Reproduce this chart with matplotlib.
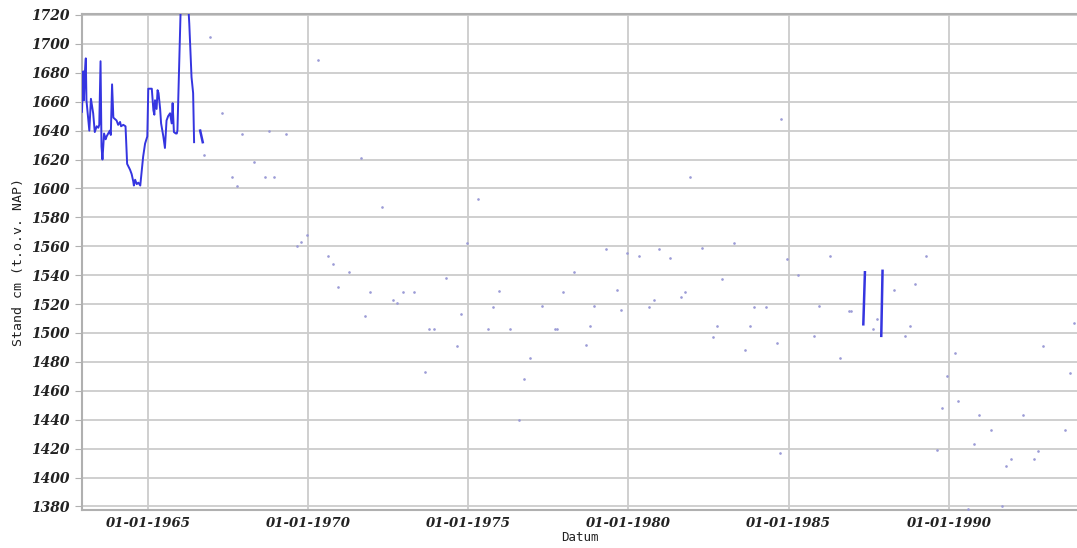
import numpy as np
import matplotlib.pyplot as plt

# doorlopende meetreeks 1963-1966 (jaar als decimaal)
jaar_lijn = [1962.94, 1962.98, 1963.00, 1963.03, 1963.06, 1963.08, 1963.17, 1963.22,
             1963.29, 1963.34, 1963.40, 1963.45, 1963.48, 1963.52, 1963.55, 1963.58,
             1963.63, 1963.68, 1963.71, 1963.76, 1963.81, 1963.84, 1963.88, 1963.92,
             1963.97, 1964.02, 1964.07, 1964.13, 1964.16, 1964.23, 1964.30, 1964.35,
             1964.44, 1964.49, 1964.54, 1964.56, 1964.60, 1964.65, 1964.70, 1964.76,
             1964.85, 1964.91, 1964.98, 1965.01, 1965.12, 1965.17, 1965.20, 1965.22,
             1965.27, 1965.30, 1965.33, 1965.38, 1965.41, 1965.48, 1965.53, 1965.58,
             1965.63, 1965.69, 1965.74, 1965.77, 1965.81, 1965.87, 1965.90, 1965.92,
             1966.10, 1966.29, 1966.36, 1966.41, 1966.44]
stand_lijn = [1653, 1681, 1661, 1680, 1690, 1661, 1640, 1662,
              1652, 1639, 1643, 1642, 1644, 1688, 1629, 1620,
              1638, 1634, 1636, 1638, 1640, 1637, 1672, 1649,
              1648, 1647, 1644, 1646, 1643, 1644, 1643, 1617,
              1613, 1610, 1605, 1602, 1606, 1603, 1604, 1602,
              1622, 1631, 1636, 1669, 1669, 1654, 1651, 1661,
              1655, 1668, 1666, 1655, 1645, 1636, 1628, 1647,
              1650, 1652, 1645, 1659, 1639, 1638, 1638, 1640,
              1790, 1714, 1677, 1666, 1632]

# korte losse stukjes
jaar_kort = [[1966.63, 1966.71], [1987.38, 1987.33], [1987.93, 1987.89]]
stand_kort = [[1640, 1632], [1542, 1506], [1543, 1498]]

# losse metingen
jaar_pnt = [1966.94, 1967.30, 1966.76, 1967.93, 1967.63, 1967.77, 1968.31, 1968.78,
            1968.66, 1968.94, 1969.30, 1970.30, 1971.65, 1972.32, 1975.31, 1969.96,
            1969.77, 1969.65, 1974.96, 1970.63, 1970.77, 1971.29, 1974.31, 1970.94,
            1975.95, 1971.94, 1972.95, 1973.31, 1972.65, 1972.77, 1975.76, 1977.30,
            1971.77, 1974.76, 1973.78, 1973.93, 1975.63, 1976.31, 1974.65, 1976.94,
            1973.66, 1976.73, 1976.59,
            1984.77, 1981.92, 1983.29, 1982.30, 1979.31, 1979.96, 1980.32, 1980.95,
            1981.31, 1984.94, 1986.29, 1978.31, 1985.29, 1982.93, 1977.96, 1979.65,
            1981.76, 1981.65, 1980.79, 1978.92, 1979.78, 1980.63, 1983.92, 1984.30,
            1985.95, 1986.88, 1977.72, 1977.76, 1978.79, 1982.77, 1983.78, 1978.66,
            1982.64, 1985.79, 1983.63, 1984.65, 1986.60, 1984.73,
            1989.30, 1988.28, 1988.94, 1986.94, 1987.77, 1987.64, 1988.78, 1988.63,
            1990.19, 1992.93, 1993.92, 1993.78, 1989.94, 1990.30, 1989.78, 1990.95,
            1992.30, 1991.31, 1993.64, 1989.62, 1990.77, 1992.77, 1991.94, 1992.65,
            1991.78, 1991.65, 1990.60]
stand_pnt = [1705, 1652, 1623, 1638, 1608, 1602, 1618, 1640,
             1608, 1608, 1638, 1689, 1621, 1587, 1593, 1568,
             1563, 1560, 1562, 1553, 1548, 1542, 1538, 1532,
             1529, 1528, 1528, 1528, 1523, 1521, 1518, 1519,
             1512, 1513, 1503, 1503, 1503, 1503, 1491, 1483,
             1473, 1468, 1440,
             1648, 1608, 1562, 1559, 1558, 1555, 1553, 1558,
             1552, 1551, 1553, 1542, 1540, 1537, 1528, 1530,
             1528, 1525, 1523, 1519, 1516, 1518, 1518, 1518,
             1519, 1515, 1503, 1503, 1505, 1505, 1505, 1492,
             1497, 1498, 1488, 1493, 1483, 1417,
             1553, 1530, 1534, 1515, 1510, 1503, 1505, 1498,
             1486, 1491, 1507, 1472, 1470, 1453, 1448, 1443,
             1443, 1433, 1433, 1419, 1423, 1418, 1413, 1413,
             1408, 1380, 1378]

xticks = [1965, 1970, 1975, 1980, 1985, 1990]
xlabels = ['01-01-%d' % j for j in xticks]
yticks = list(range(1380, 1721, 20))

fig = plt.figure(figsize=(10.77, 5.48), dpi=100)
ax = fig.add_axes([0.0761, 0.0693, 0.9239, 0.9052])

blauw = '#3535e0'
ax.plot(jaar_lijn, stand_lijn, color=blauw, lw=1.4, zorder=3)
for xs, ys in zip(jaar_kort, stand_kort):
    ax.plot(xs, ys, color=blauw, lw=1.8, zorder=3)
ax.plot(jaar_pnt, stand_pnt, ls='none', marker='.', ms=1.8, color='#9c9cd6', zorder=3)

ax.set_xlim(1962.94, 1994.0)
ax.set_ylim(1377.5, 1720.7)
ax.set_xticks(xticks)
ax.set_xticklabels(xlabels)
ax.set_yticks(yticks)

ax.grid(True, color='#cccccc', lw=1.3)
ax.set_axisbelow(True)

for s in ['left', 'bottom', 'top']:
    ax.spines[s].set_color('#b0b0b0')
    ax.spines[s].set_linewidth(1.5)
ax.spines['right'].set_visible(False)

ax.tick_params(axis='y', length=5, color='#b0b0b0', pad=4)
ax.tick_params(axis='x', length=0, pad=5)
for t in ax.get_yticklabels():
    t.set_fontsize(10)
for t in ax.get_xticklabels():
    t.set_fontsize(9.5)
for t in ax.get_xticklabels() + ax.get_yticklabels():
    t.set_family('DejaVu Serif')
    t.set_weight('bold')
    t.set_style('italic')
    t.set_color('#222222')

ax.set_xlabel('Datum', family='DejaVu Sans Mono', fontsize=9, labelpad=1, color='#222222')
ax.set_ylabel('Stand cm (t.o.v. NAP)', family='DejaVu Sans Mono', fontsize=9.5,
              labelpad=4, color='#222222')

plt.savefig('out.png', dpi=100)
